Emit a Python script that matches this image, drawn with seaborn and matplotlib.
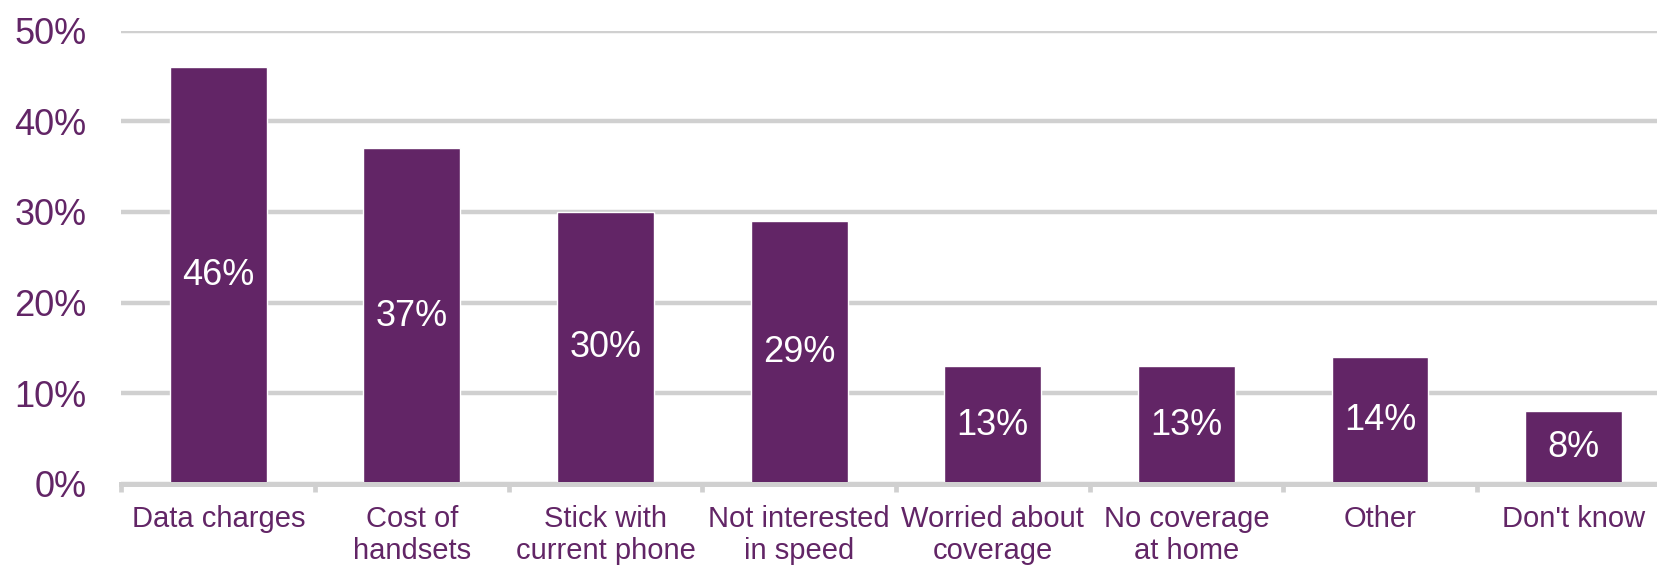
import matplotlib
matplotlib.use("Agg")
import matplotlib.pyplot as plt
from matplotlib.ticker import FixedLocator
import seaborn as sns
import pandas as pd

categories = ["Data charges", "Cost of\nhandsets", "Stick with\ncurrent phone",
              "Not interested\nin speed", "Worried about\ncoverage",
              "No coverage\nat home", "Other", "Don't know"]
values = [46, 37, 30, 29, 13, 13, 14, 8]
y_ticks = [0, 10, 20, 30, 40, 50]
y_tick_labels = ["0%", "10%", "20%", "30%", "40%", "50%"]

PURPLE = "#622566"
GRID = "#D0D0D0"

sns.set_theme(style="white")
plt.rcParams["font.family"] = ["Liberation Sans", "DejaVu Sans"]

df = pd.DataFrame({"reason": categories, "share": values})

fig = plt.figure(figsize=(16.57, 5.66), dpi=100)
ax = fig.add_axes([0.0733, 0.1449, 0.9348, 0.8011])

sns.barplot(data=df, x="reason", y="share", color=PURPLE, width=0.5,
            saturation=1, ax=ax, zorder=3)

ax.set_ylim(0, 50)
ax.set_xlim(-0.5, len(categories) - 0.5)
ax.set_yticks(y_ticks)
ax.set_yticklabels(y_tick_labels)
ax.set_xlabel("")
ax.set_ylabel("")

# horizontal gridlines
ax.yaxis.grid(True, color=GRID, linewidth=3.2, zorder=0)
ax.xaxis.grid(False)
for side in ["left", "right", "top"]:
    ax.spines[side].set_visible(False)
ax.spines["bottom"].set_color(GRID)
ax.spines["bottom"].set_linewidth(3.6)
ax.spines["bottom"].set_zorder(4)

# separators between categories
boundaries = [i - 0.5 for i in range(len(categories) + 1)]
ax.xaxis.set_minor_locator(FixedLocator(boundaries))
ax.tick_params(axis="x", which="minor", length=6, width=3.4, color=GRID,
               direction="out", bottom=True)
ax.tick_params(axis="x", which="major", length=0, pad=15,
               labelsize=21, labelcolor=PURPLE)
ax.tick_params(axis="y", which="major", length=0, pad=25,
               labelsize=26, labelcolor=PURPLE)
for lbl in ax.get_xticklabels():
    lbl.set_linespacing(1.18)

for container in ax.containers:
    ax.bar_label(container, labels=[f"{v}%" for v in values],
                 label_type="center", color="white", fontsize=26)

fig.savefig("out.png", dpi=100)
